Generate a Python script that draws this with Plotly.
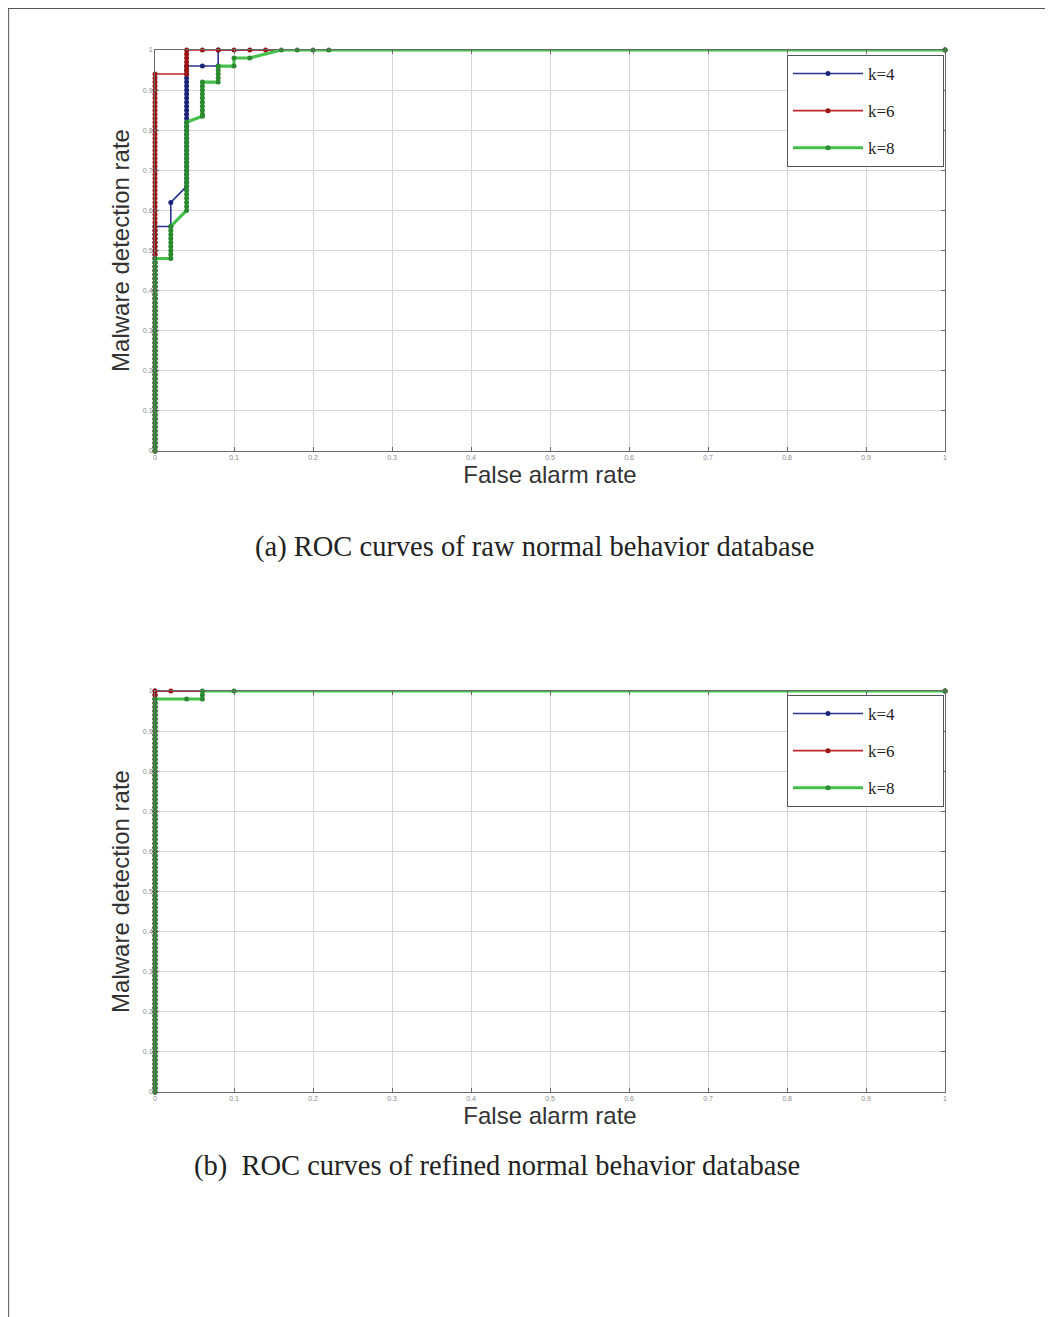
import plotly.graph_objects as go

# Detection-rate levels at which curve points (dots) were observed (step 0.01)
TPR_LEVELS = [0.00, 0.01, 0.02, 0.03, 0.04, 0.05, 0.06, 0.07, 0.08, 0.09,
              0.10, 0.11, 0.12, 0.13, 0.14, 0.15, 0.16, 0.17, 0.18, 0.19,
              0.20, 0.21, 0.22, 0.23, 0.24, 0.25, 0.26, 0.27, 0.28, 0.29,
              0.30, 0.31, 0.32, 0.33, 0.34, 0.35, 0.36, 0.37, 0.38, 0.39,
              0.40, 0.41, 0.42, 0.43, 0.44, 0.45, 0.46, 0.47, 0.48, 0.49,
              0.50, 0.51, 0.52, 0.53, 0.54, 0.55, 0.56, 0.57, 0.58, 0.59,
              0.60, 0.61, 0.62, 0.63, 0.64, 0.65, 0.66, 0.67, 0.68, 0.69,
              0.70, 0.71, 0.72, 0.73, 0.74, 0.75, 0.76, 0.77, 0.78, 0.79,
              0.80, 0.81, 0.82, 0.83, 0.84, 0.85, 0.86, 0.87, 0.88, 0.89,
              0.90, 0.91, 0.92, 0.93, 0.94, 0.95, 0.96, 0.97, 0.98, 0.99, 1.00]

# ROC curve vertices: (false alarm rate, detection rate lower, detection rate upper)
# each tuple is a vertical run at a given FPR; single points are given as lo == hi
ROC_A_K4 = [(0.00, 0.00, 0.56), (0.02, 0.56, 0.56), (0.02, 0.62, 0.62), (0.04, 0.66, 0.96),
            (0.06, 0.96, 0.96), (0.08, 0.96, 0.96), (0.08, 1.00, 1.00), (1.00, 1.00, 1.00)]
ROC_A_K6 = [(0.00, 0.00, 0.94), (0.04, 0.94, 1.00), (0.06, 1.00, 1.00), (0.08, 1.00, 1.00),
            (0.10, 1.00, 1.00), (0.12, 1.00, 1.00), (0.14, 1.00, 1.00), (1.00, 1.00, 1.00)]
ROC_A_K8 = [(0.00, 0.00, 0.48), (0.02, 0.48, 0.56), (0.04, 0.60, 0.82), (0.06, 0.835, 0.835),
            (0.06, 0.84, 0.92), (0.08, 0.92, 0.96), (0.10, 0.96, 0.96), (0.10, 0.98, 0.98),
            (0.12, 0.98, 0.98), (0.16, 1.00, 1.00), (0.18, 1.00, 1.00), (0.20, 1.00, 1.00),
            (0.22, 1.00, 1.00), (1.00, 1.00, 1.00)]

ROC_B_K4 = [(0.00, 0.00, 1.00), (1.00, 1.00, 1.00)]
ROC_B_K6 = [(0.00, 0.00, 1.00), (0.02, 1.00, 1.00), (1.00, 1.00, 1.00)]
ROC_B_K8 = [(0.00, 0.00, 0.98), (0.04, 0.98, 0.98), (0.06, 0.98, 1.00), (0.10, 1.00, 1.00),
            (1.00, 1.00, 1.00)]

SERIES_NAMES = ["k=4", "k=6", "k=8"]
X_TICKS = [0, 0.1, 0.2, 0.3, 0.4, 0.5, 0.6, 0.7, 0.8, 0.9, 1]
X_TICK_LABELS = ["0", "0.1", "0.2", "0.3", "0.4", "0.5", "0.6", "0.7", "0.8", "0.9", "1"]
Y_TICKS = [0, 0.1, 0.2, 0.3, 0.4, 0.5, 0.6, 0.7, 0.8, 0.9, 1]
Y_TICK_LABELS = ["0", "0.1", "0.2", "0.3", "0.4", "0.5", "0.6", "0.7", "0.8", "0.9", "1"]
CAPTION_A = "(a) ROC curves of raw normal behavior database"
CAPTION_B = "(b)\u00a0\u00a0ROC curves of refined normal behavior database"
X_TITLE = "False alarm rate"
Y_TITLE = "Malware detection rate"


def expand(runs):
    xs, ys = [], []
    for fpr, lo, hi in runs:
        if lo == hi:
            xs.append(fpr)
            ys.append(lo)
            continue
        xs.append(fpr)
        ys.append(lo)
        for v in TPR_LEVELS:
            if lo < v < hi:
                xs.append(fpr)
                ys.append(v)
        xs.append(fpr)
        ys.append(hi)
    return xs, ys


LINE_COLORS = ["#2b3494", "#c0282a", "#45c04a"]
MARK_COLORS = ["#1c2478", "#9c1414", "#2b8a30"]
LINE_WIDTHS = [1.6, 1.6, 3.2]
PAD = "\u00a0" * 10

fig = go.Figure()

panels = [
    ([ROC_A_K4, ROC_A_K6, ROC_A_K8], "x", "y", "legend"),
    ([ROC_B_K4, ROC_B_K6, ROC_B_K8], "x2", "y2", "legend2"),
]
for runs_list, xa, ya, leg in panels:
    for i, runs in enumerate(runs_list):
        xs, ys = expand(runs)
        fig.add_trace(go.Scatter(
            x=xs, y=ys, mode="lines+markers", name=SERIES_NAMES[i] + PAD,
            xaxis=xa, yaxis=ya, legend=leg, legendgroup=leg + str(i),
            line=dict(color=LINE_COLORS[i], width=LINE_WIDTHS[i]),
            marker=dict(color=MARK_COLORS[i], size=5, symbol="circle"),
            cliponaxis=False,
        ))

# page body has an 8px margin: figure is placed at (8, 8) in the window
OFF = 8
W, H = 1053 - OFF, 1317 - OFF


def px(v):
    return (v - OFF) / W


def py(v):
    return 1 - (v - OFF) / H


x_dom = [px(155), px(945)]
ya_dom = [py(451), py(50)]
yb_dom = [py(1092), py(691)]

axis_common = dict(
    range=[0, 1], showgrid=True, gridcolor="#d6d6d6", gridwidth=1,
    showline=True, linecolor="#6a6a6a", linewidth=1, mirror="ticks",
    ticks="inside", ticklen=4, tickcolor="#6a6a6a", zeroline=False,
    tickfont=dict(family="Liberation Sans", size=7, color="#8a8a8a"),
    automargin=False,
)
title_font = dict(family="Liberation Sans", size=24, color="#333333")
legend_common = dict(xanchor="left", yanchor="top",
                     bgcolor="white", bordercolor="#555555", borderwidth=1,
                     font=dict(family="Liberation Serif", size=17, color="#222222"),
                     itemwidth=70, tracegroupgap=12)

fig.update_layout(
    width=W, height=H,
    margin=dict(l=0, r=0, t=0, b=0),
    paper_bgcolor="white", plot_bgcolor="white",
    xaxis=dict(domain=x_dom, anchor="y", tickvals=X_TICKS, ticktext=X_TICK_LABELS,
               title=dict(text=X_TITLE, font=title_font, standoff=4), **axis_common),
    yaxis=dict(domain=ya_dom, anchor="x", tickvals=Y_TICKS, ticktext=Y_TICK_LABELS,
               title=dict(text=Y_TITLE, font=title_font, standoff=6), **axis_common),
    xaxis2=dict(domain=x_dom, anchor="y2", tickvals=X_TICKS, ticktext=X_TICK_LABELS,
                title=dict(text=X_TITLE, font=title_font, standoff=4), **axis_common),
    yaxis2=dict(domain=yb_dom, anchor="x2", tickvals=Y_TICKS, ticktext=Y_TICK_LABELS,
                title=dict(text=Y_TITLE, font=title_font, standoff=6), **axis_common),
    legend=dict(x=px(787), y=py(55), **legend_common),
    legend2=dict(x=px(787), y=py(695), **legend_common),
    showlegend=True,
    annotations=[
        dict(text=CAPTION_A, x=px(535), y=py(547), xref="paper", yref="paper",
             showarrow=False, xanchor="center", yanchor="middle",
             font=dict(family="Liberation Serif", size=28.5, color="#222222")),
        dict(text=CAPTION_B, x=px(497), y=py(1166), xref="paper", yref="paper",
             showarrow=False, xanchor="center", yanchor="middle",
             font=dict(family="Liberation Serif", size=28.5, color="#222222")),
    ],
    shapes=[
        dict(type="line", xref="paper", yref="paper", x0=0.0006, x1=0.0006, y0=0, y1=1,
             line=dict(color="#555555", width=1)),
        dict(type="line", xref="paper", yref="paper", x0=0, x1=1, y0=0.9996, y1=0.9996,
             line=dict(color="#555555", width=1)),
    ],
)

fig.write_html("out.html")
